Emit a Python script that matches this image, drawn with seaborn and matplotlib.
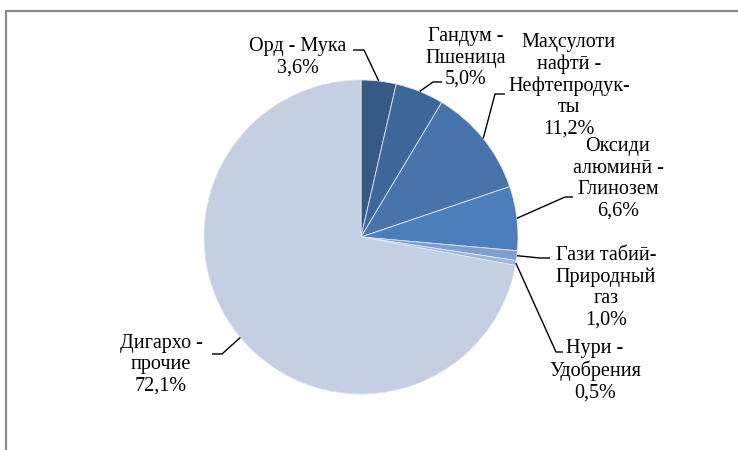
import numpy as np
import matplotlib
matplotlib.use("Agg")
import matplotlib.pyplot as plt
from matplotlib.lines import Line2D
import seaborn as sns

# shares of export, %
labels = [
    "Орд - Мука",
    "Гандум -\nПшеница",
    "Маҳсулоти\nнафтӣ -\nНефтепродук-\nты",
    "Оксиди\nалюминӣ -\nГлинозем",
    "Гази табиӣ-\nПриродный\nгаз",
    "Нури -\nУдобрения",
    "Дигархо -\nпрочие",
]
shares = [3.6, 5.0, 11.2, 6.6, 1.0, 0.5, 72.1]
colors = ["#355a86", "#3d6799", "#4674ab", "#4c7ebb", "#7e9fcd", "#a3b5d6", "#c4cfe2"]

# label block centres and leader elbows (pixel coords, top-left origin)
text_pos = [(298, 57), (466, 58), (569, 86), (618, 179), (606, 288), (595, 371), (161, 365)]
elbows = [
    [(364, 50), (353, 50)],
    [(433, 82), (442, 82)],
    [(495, 94), (505, 94)],
    [(565, 197), (573, 197)],
    [(540, 258), (550, 258)],
    [(556, 352), (563, 352)],
    [(222, 354), (212, 354)],
]

W, H = 738, 450
cx, cy, r = 361, 237, 157

sns.set_theme(style="white")
plt.rcParams["font.family"] = ["Liberation Serif", "DejaVu Serif"]

fig = plt.figure(figsize=(W / 100, H / 100), dpi=100)
ax = fig.add_axes([0, 0, 1, 1])

ax.pie(shares, colors=colors, startangle=90, counterclock=False,
       center=(cx, H - cy), radius=r,
       wedgeprops=dict(edgecolor="#dfe6f0", linewidth=0.6))
ax.set_xlim(0, W)
ax.set_ylim(0, H)
ax.set_aspect("equal")
ax.axis("off")

total = sum(shares)
cum = np.cumsum([0] + shares[:-1])
for lab, v, c0, (tx, ty), elb in zip(labels, shares, cum, text_pos, elbows):
    ang = np.deg2rad(90 - 360 * (c0 + v / 2) / total)
    px, py = cx + r * np.cos(ang), H - cy + r * np.sin(ang)
    xs = [px] + [e[0] for e in elb]
    ys = [py] + [H - e[1] for e in elb]
    ax.plot(xs, ys, color="black", lw=1.0, solid_capstyle="butt")
    pct = f"{v:.1f}%".replace(".", ",")
    ax.text(tx, H - ty, lab + "\n" + pct, ha="center", va="center",
            fontsize=14.5, linespacing=1.17, color="black")

# chart frame (top and left edges only visible)
fig.add_artist(Line2D([6 / W, 1], [1 - 11 / H, 1 - 11 / H], color="#8c8c8c", lw=1.6))
fig.add_artist(Line2D([6 / W, 6 / W], [0, 1 - 11 / H], color="#8c8c8c", lw=1.6))

fig.savefig("out.png", dpi=100)
